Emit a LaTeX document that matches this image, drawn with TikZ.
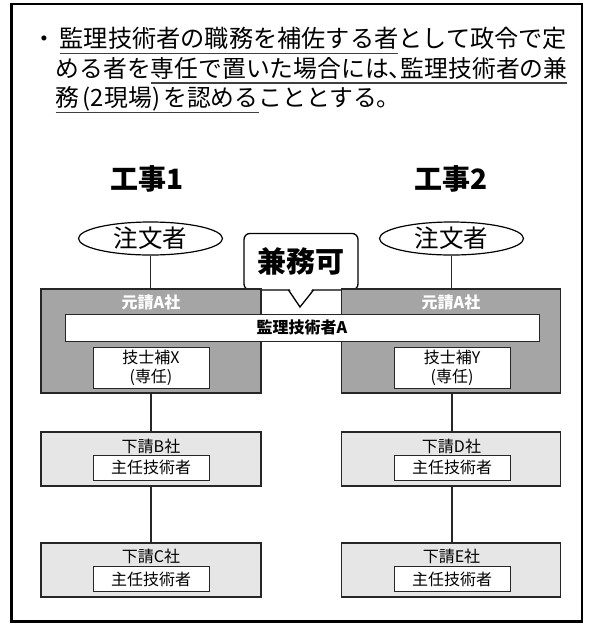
\documentclass[tikz,border=0pt]{standalone}
\usepackage{fontspec}
\setmainfont{Noto Sans CJK JP}
\usetikzlibrary{shapes.geometric}
\definecolor{darkfill}{HTML}{A5A5A5}
\definecolor{lightfill}{HTML}{E6E6E6}
\newcommand\myfs[2]{\fontsize{#1}{#2}\selectfont}
\newsavebox\ulbox
\newcommand\ulseg[1]{\sbox\ulbox{#1}\rlap{\color{black!75}\rule[-6.5pt]{\wd\ulbox}{1.1pt}}\usebox\ulbox}
\begin{document}
\begin{tikzpicture}[x=1pt,y=-1pt,
  maintext/.style={inner sep=0pt, anchor=base west, font=\myfs{23.8}{29}},
  title/.style={inner sep=0pt, font=\myfs{28}{30}\bfseries},
  client/.style={draw, ellipse, line width=1.2pt, minimum width=144pt, minimum height=33pt, inner sep=0pt, font=\myfs{24.5}{26}},
  darkbox/.style={draw=black!85, fill=darkfill, line width=1.4pt, minimum width=220pt, minimum height=104pt, inner sep=0pt},
  lightbox/.style={draw=black!85, fill=lightfill, line width=1.4pt, minimum width=220pt, minimum height=54pt, inner sep=0pt},
  whitebox/.style={draw=black!85, fill=white, line width=1pt, minimum width=116pt, inner sep=0pt},
  conn/.style={line width=1.2pt, draw=black!85}
]
\useasboundingbox (0,0) rectangle (593,625);
\draw[line width=2.4pt] (11.5,3.8) rectangle (582,621.5);

% heading text
\node[inner sep=0pt, anchor=base, font=\myfs{23.8}{29}] (bul) at (44,47.5) {・};
\node[maintext, font=\myfs{24.2}{29}] (l1) at (59.5,47.5) {\ulseg{監理技術者の職務を補佐する者}として政令で定};
\node[maintext] (l2) at (55.5,77) {める者を\ulseg{専任で置いた場合には\hbox to 0.5em{、\hss}監理技術者の兼}};
\node[maintext] (l3) at (55.5,106.5) {\ulseg{務\kern3pt(2\kern1pt現場)\kern3pt を認める}こととする。};

% titles
\node[title] (k1) at (147.5,178.5) {工事1};
\node[title] (k2) at (451.5,178.5) {工事2};

% clients
\node[client] (o1) at (150.5,238.5) {注文者};
\node[client] (o2) at (451.5,238.5) {注文者};

% callout
\node[draw, rounded corners=6pt, fill=white, line width=1.3pt, minimum width=114pt, minimum height=56.5pt, inner sep=0pt, font=\myfs{29}{30}\bfseries] (kamu) at (301,261.7) {兼務可};
\coordinate (tip) at (300,307);
\coordinate (pl) at (288.5,290);
\coordinate (pr) at (313.5,290);
\fill[white] (289.5,288.6) -- (tip) -- (312.5,288.6) -- cycle;
\draw[line width=1.3pt, line join=miter] (pl) -- (tip) -- (pr);

% main contractors
\node[darkbox] (a1) at (151,341) {};
\node[darkbox, minimum width=219pt] (a2) at (451,341) {};
\node[inner sep=0pt, text=white, font=\myfs{16}{18}\bfseries] (a1t) at (151,302.5) {元請A社};
\node[inner sep=0pt, text=white, font=\myfs{16}{18}\bfseries] (a2t) at (451,302.5) {元請A社};
\node[draw=black!85, fill=white, line width=1pt, minimum width=474pt, minimum height=27pt, inner sep=0pt, font=\myfs{16}{18}\bfseries] (bar) at (302,327.7) {監理技術者A};
\node[whitebox, minimum height=40.6pt, align=center, font=\myfs{16}{19}] (x1) at (151,368) {技士補X\\(専任)};
\node[whitebox, minimum height=40.6pt, align=center, font=\myfs{16}{19}] (y1) at (452,368) {技士補Y\\(専任)};

% subcontractors left
\node[lightbox] (b1) at (151,459) {};
\node[inner sep=0pt, font=\myfs{16}{18}] (b1t) at (151,446) {下請B社};
\node[whitebox, minimum height=25pt, font=\myfs{16}{18}] (b1e) at (151,467.5) {主任技術者};
\node[lightbox] (c1) at (151,570) {};
\node[inner sep=0pt, font=\myfs{16}{18}] (c1t) at (151,556.7) {下請C社};
\node[whitebox, minimum height=25pt, font=\myfs{16}{18}] (c1e) at (151,579) {主任技術者};

% subcontractors right
\node[lightbox, minimum width=219pt] (d1) at (451,459) {};
\node[inner sep=0pt, font=\myfs{16}{18}] (d1t) at (451.5,446) {下請D社};
\node[whitebox, minimum height=25pt, font=\myfs{16}{18}] (d1e) at (452,467.5) {主任技術者};
\node[lightbox, minimum width=219pt] (e1) at (451,570) {};
\node[inner sep=0pt, font=\myfs{16}{18}] (e1t) at (451.5,556.7) {下請E社};
\node[whitebox, minimum height=25pt, font=\myfs{16}{18}] (e1e) at (452,579) {主任技術者};

% connectors
\draw[conn] (o1.south) -- (o1.south |- a1.north);
\draw[conn] (o2.south) -- (o2.south |- a2.north);
\draw[conn] (a1.south) -- (b1.north);
\draw[conn] (b1.south) -- (c1.north);
\draw[conn] (452,393) coordinate (a2s) -- (a2s |- d1.north);
\draw[conn] (452,486) coordinate (d1s) -- (d1s |- e1.north);
\end{tikzpicture}
\end{document}
